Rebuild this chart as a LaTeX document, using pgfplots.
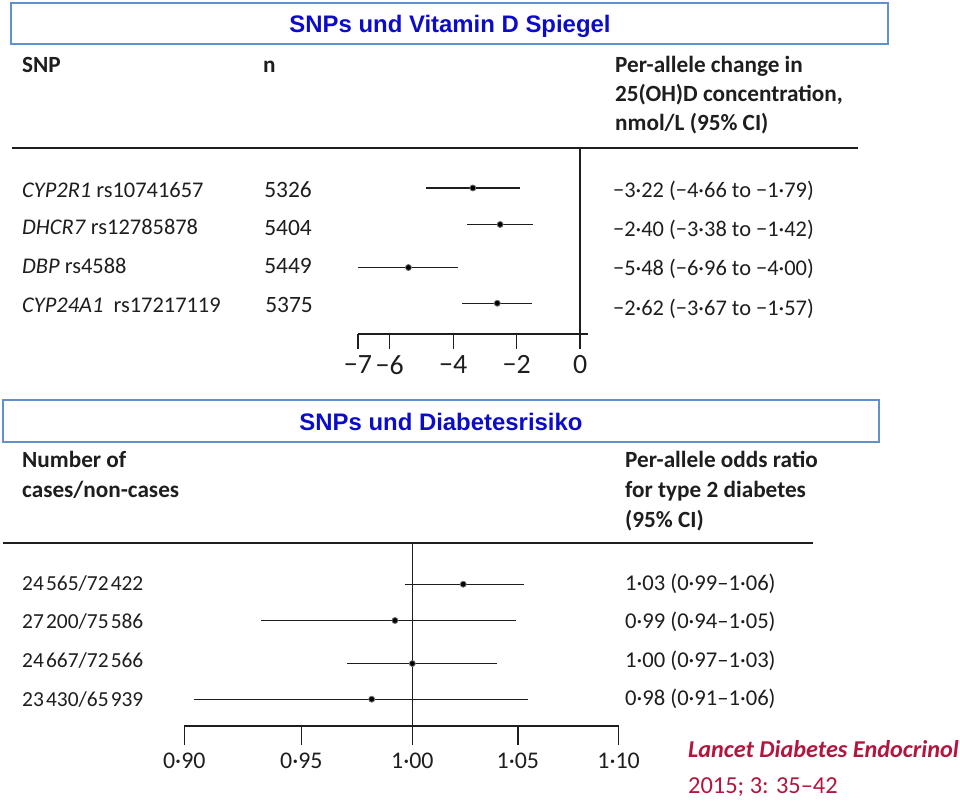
\documentclass[border=0pt]{standalone}
\usepackage{fontspec}
\setmainfont{Carlito}
\newfontfamily\arialf{Liberation Sans}
\usepackage{pgfplots}
\pgfplotsset{compat=1.18}
\definecolor{titleblue}{RGB}{12,12,200}
\definecolor{boxblue}{RGB}{95,145,205}
\definecolor{lancet}{RGB}{178,22,62}
\definecolor{ink}{RGB}{30,30,30}
\newcommand{\bodyf}{\fontsize{22.5}{29}\selectfont}
\newcommand{\headf}{\fontsize{23.3}{29}\selectfont\bfseries}
\newcommand{\titf}{\arialf\bfseries\fontsize{24}{28}\selectfont}
\newcommand{\ts}{\hspace{0.1em}}
\begin{document}
\begin{tikzpicture}[every node/.style={inner sep=0pt, text=ink}]
\path[use as bounding box] (0,0) rectangle (960bp,-803bp);
% title boxes
\draw[boxblue, line width=1.3bp] (11bp,-3bp) rectangle (888bp,-44bp);
\node[anchor=base, text=titleblue, font=\titf] at (450bp,-32bp) {SNPs und Vitamin D Spiegel};
\draw[boxblue, line width=1.3bp] (3bp,-400bp) rectangle (879bp,-442bp);
\node[anchor=base, text=titleblue, font=\titf] at (441bp,-430bp) {SNPs und Diabetesrisiko};

% ---------- top panel ----------
\node[anchor=base west, font=\headf] at (22bp,-72bp) {SNP};
\node[anchor=base west, font=\headf] at (263bp,-72bp) {n};
\node[anchor=base west, font=\headf] at (615bp,-72bp) {Per-allele change in};
\node[anchor=base west, font=\headf] at (615bp,-101bp) {25(OH)D concentration,};
\node[anchor=base west, font=\headf] at (615bp,-130bp) {nmol/L (95\% CI)};
\draw[ink, line width=1.4bp] (12bp,-148bp) -- (858bp,-148bp);

\node[anchor=base west, font=\bodyf] at (22bp,-197bp) {\textit{CYP2R1} rs10741657};
\node[anchor=base west, font=\bodyf] at (22bp,-234bp) {\textit{DHCR7} rs12785878};
\node[anchor=base west, font=\bodyf] at (22bp,-273bp) {\textit{DBP} rs4588};
\node[anchor=base west, font=\bodyf] at (22bp,-312bp) {\textit{CYP24A1}\ \ rs17217119};
\node[anchor=base east, font=\fontsize{23.5}{29}\selectfont] at (312bp,-197bp) {5326};
\node[anchor=base east, font=\fontsize{23.5}{29}\selectfont] at (312bp,-235bp) {5404};
\node[anchor=base east, font=\fontsize{23.5}{29}\selectfont] at (312bp,-273bp) {5449};
\node[anchor=base east, font=\fontsize{23.5}{29}\selectfont] at (313bp,-312bp) {5375};
\node[anchor=base west, font=\bodyf] at (613bp,-197bp) {−3·22 (−4·66 to −1·79)};
\node[anchor=base west, font=\bodyf] at (613bp,-236bp) {−2·40 (−3·38 to −1·42)};
\node[anchor=base west, font=\bodyf] at (613bp,-275bp) {−5·48 (−6·96 to −4·00)};
\node[anchor=base west, font=\bodyf] at (613bp,-315bp) {−2·62 (−3·67 to −1·57)};

\begin{axis}[
  at={(358bp,-334bp)}, anchor=south west, scale only axis,
  width=230bp, height=186bp,
  xmin=-7, xmax=0.25, ymin=-4.80, ymax=0.04,
  axis x line*=bottom, hide y axis, clip=false,
  xtick={-7,-6,-4,-2,0}, xticklabels={−7,−6,−4,−2,0},
  minor xtick={},
  tick align=outside, major tick length=15bp,
  x axis line style={ink, line width=1.3bp},
  every tick/.style={ink, line width=1.3bp},
  xticklabel style={font=\fontsize{28}{30}\selectfont, text=ink, inner sep=0pt, anchor=north, yshift=-6bp},
]
\addplot[ink, line width=1.3bp] coordinates {(0,0.04) (0,-5.19)};
\addplot[ink, line width=1.3bp] coordinates {(-4.86,-1) (-1.89,-1)};
\addplot[ink, line width=1.3bp] coordinates {(-3.55,-1.95) (-1.47,-1.95)};
\addplot[ink, line width=1.3bp] coordinates {(-7.01,-3.07) (-3.84,-3.07)};
\addplot[ink, line width=1.3bp] coordinates {(-3.72,-4) (-1.51,-4)};
\addplot[only marks, mark=*, mark size=3bp, mark options={fill=black, draw=black!55, line width=0.8bp}]
  coordinates {(-3.38,-1) (-2.52,-1.95) (-5.41,-3.07) (-2.61,-4)};
\end{axis}

% ---------- bottom panel ----------
\node[anchor=base west, font=\headf] at (22bp,-467bp) {Number of};
\node[anchor=base west, font=\headf] at (22bp,-497bp) {cases/non-cases};
\node[anchor=base west, font=\headf] at (625bp,-467bp) {Per-allele odds ratio};
\node[anchor=base west, font=\headf] at (625bp,-497bp) {for type 2 diabetes};
\node[anchor=base west, font=\headf] at (625bp,-527bp) {(95\% CI)};
\draw[ink, line width=1.4bp] (3bp,-543bp) -- (813bp,-543bp);

\node[anchor=base west, font=\fontsize{21.5}{29}\selectfont] at (22bp,-590bp) {24\ts565/72\ts422};
\node[anchor=base west, font=\fontsize{21.5}{29}\selectfont] at (22bp,-628bp) {27\ts200/75\ts586};
\node[anchor=base west, font=\fontsize{21.5}{29}\selectfont] at (22bp,-667bp) {24\ts667/72\ts566};
\node[anchor=base west, font=\fontsize{21.5}{29}\selectfont] at (22bp,-706bp) {23\ts430/65\ts939};
\node[anchor=base west, font=\fontsize{22.7}{29}\selectfont] at (625bp,-590bp) {1·03 (0·99–1·06)};
\node[anchor=base west, font=\fontsize{22.7}{29}\selectfont] at (625bp,-628bp) {0·99 (0·94–1·05)};
\node[anchor=base west, font=\fontsize{22.7}{29}\selectfont] at (625bp,-667bp) {1·00 (0·97–1·03)};
\node[anchor=base west, font=\fontsize{22.7}{29}\selectfont] at (625bp,-705bp) {0·98 (0·91–1·06)};

\begin{axis}[
  at={(184.3bp,-726bp)}, anchor=south west, scale only axis,
  width=434.3bp, height=182.8bp,
  xmode=log, xmin=0.9, xmax=1.1, ymin=-4.70, ymax=0.07,
  axis x line*=bottom, hide y axis, clip=false,
  xtick={0.9,0.95,1,1.05,1.1}, xticklabels={0·90,0·95,1·00,1·05,1·10},
  minor xtick={},
  tick align=outside, major tick length=19bp,
  x axis line style={ink, line width=1.3bp},
  every tick/.style={ink, line width=1.3bp},
  xticklabel style={font=\fontsize{24}{26}\selectfont, text=ink, inner sep=0pt, anchor=north, yshift=-8bp},
]
\addplot[ink, line width=1.3bp] coordinates {(1,0.07) (1,-5.2)};
\addplot[ink, line width=1.3bp] coordinates {(0.9966,-1) (1.053,-1)};
\addplot[ink, line width=1.3bp] coordinates {(0.9325,-1.947) (1.049,-1.947)};
\addplot[ink, line width=1.3bp] coordinates {(0.9704,-3.07) (1.0398,-3.07)};
\addplot[ink, line width=1.3bp] coordinates {(0.9042,-4) (1.0548,-4)};
\addplot[only marks, mark=*, mark size=3bp, mark options={fill=black, draw=black!55, line width=0.8bp}]
  coordinates {(1.0238,-1) (0.992,-1.947) (1.000,-3.07) (0.9814,-4)};
\end{axis}

% citation
\node[anchor=base west, text=lancet, font=\fontsize{24.3}{26}\selectfont\bfseries\itshape] at (688bp,-757bp) {Lancet Diabetes Endocrinol};
\node[anchor=base west, text=lancet, font=\fontsize{24.5}{26}\selectfont] at (688bp,-793bp) {2015; 3: 35–42};
\end{tikzpicture}
\end{document}
